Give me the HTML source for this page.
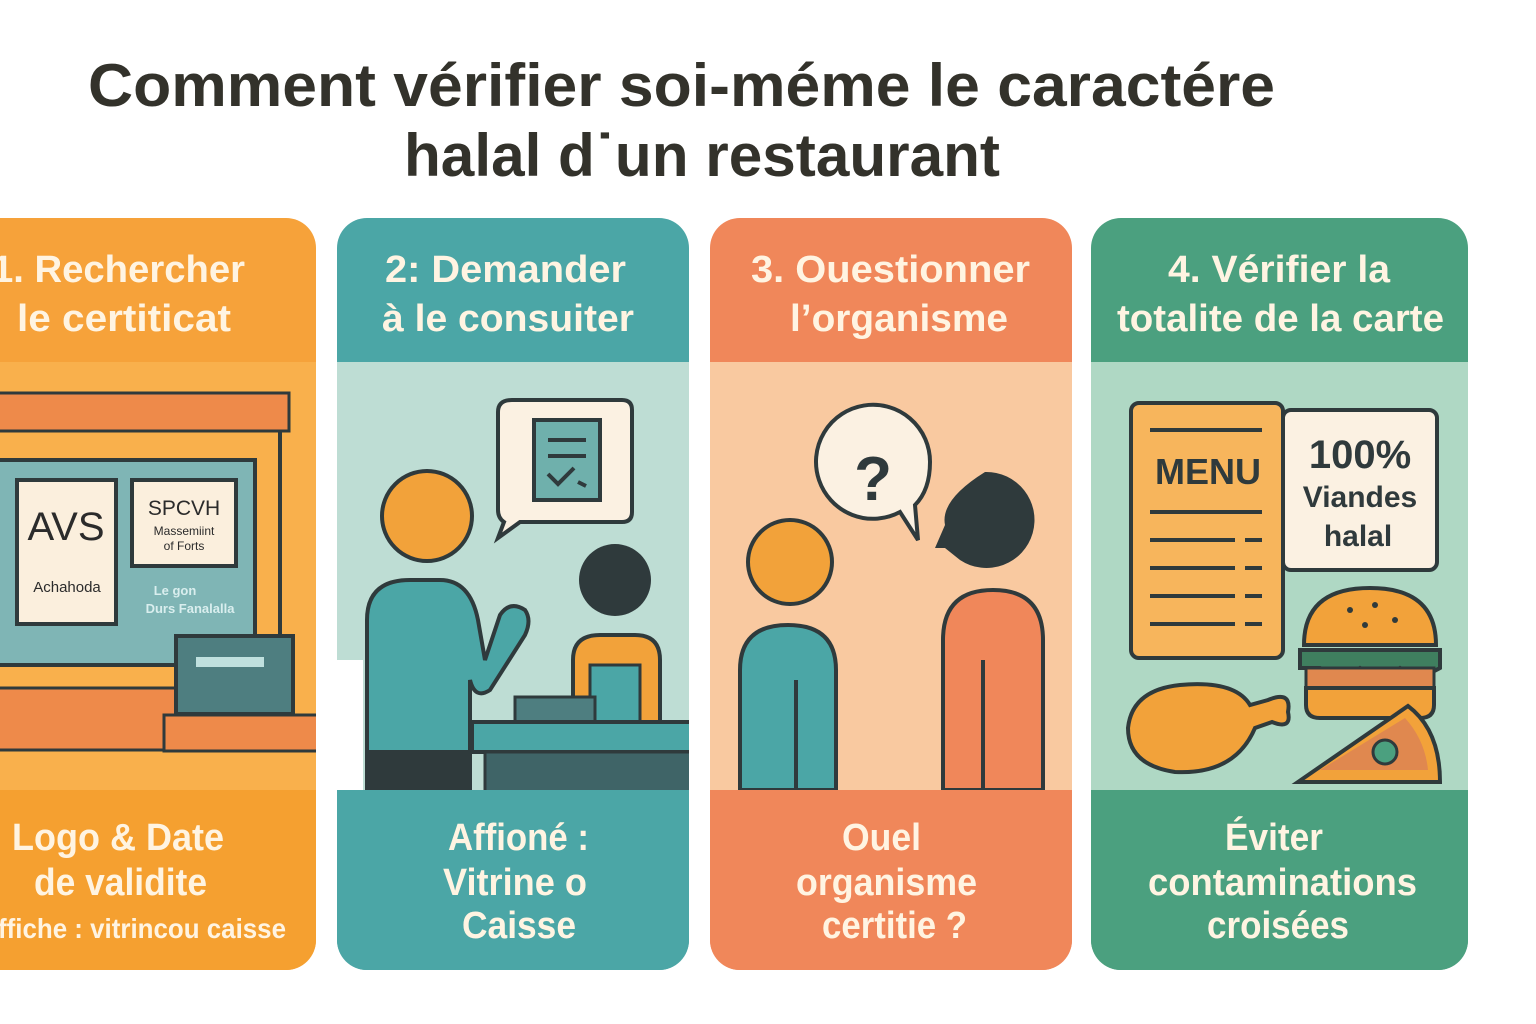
<!DOCTYPE html>
<html><head><meta charset="utf-8"><style>
body{margin:0;width:1536px;height:1024px;background:#fff;overflow:hidden;font-family:"Liberation Sans",sans-serif}
svg{position:absolute;left:0;top:0}
</style></head><body>
<svg width="1536" height="1024" viewBox="0 0 1536 1024" font-family="Liberation Sans, sans-serif">
<text x="88" y="106" textLength="1187" lengthAdjust="spacingAndGlyphs" font-size="60" font-weight="bold" fill="#33322b">Comment vérifier soi-méme le caractére</text>
<text x="404" y="176" textLength="596" lengthAdjust="spacingAndGlyphs" font-size="60" font-weight="bold" fill="#33322b">halal d˙un restaurant</text>
<defs>
<clipPath id="c1"><rect x="-40" y="218" width="356" height="752" rx="30"/></clipPath>
<clipPath id="c2"><rect x="337" y="218" width="352" height="752" rx="30"/></clipPath>
<clipPath id="c3"><rect x="710" y="218" width="362" height="752" rx="30"/></clipPath>
<clipPath id="c4"><rect x="1091" y="218" width="377" height="752" rx="30"/></clipPath>
</defs>
<!-- card 1 -->
<g clip-path="url(#c1)">
<rect x="-40" y="218" width="356" height="752" fill="#F6A23A"/>
<rect x="-40" y="362" width="356" height="428" fill="#F9B04C"/>
<rect x="-2" y="393" width="291" height="38" fill="#EE8A4A" stroke="#2f3a3c" stroke-width="3"/>
<line x1="280" y1="431" x2="280" y2="636" stroke="#2f3a3c" stroke-width="4"/>
<rect x="-2" y="460" width="257" height="205" fill="#7FB5B5" stroke="#2f3a3c" stroke-width="4"/>
<rect x="17" y="480" width="99" height="144" fill="#FBEFDD" stroke="#2f3a3c" stroke-width="4"/>
<text x="66" y="540" text-anchor="middle" font-size="40" fill="#2b2b2b">AVS</text>
<text x="67" y="592" text-anchor="middle" font-size="15" fill="#2b2b2b">Achahoda</text>
<rect x="132" y="480" width="104" height="86" fill="#FBEFDD" stroke="#2f3a3c" stroke-width="4"/>
<text x="184" y="515" text-anchor="middle" font-size="21" fill="#2b2b2b">SPCVH</text>
<text x="184" y="535" text-anchor="middle" font-size="12" fill="#2b2b2b">Massemiint</text>
<text x="184" y="550" text-anchor="middle" font-size="12" fill="#2b2b2b">of Forts</text>
<text x="175" y="595" text-anchor="middle" font-size="13" font-weight="bold" fill="#d9eeee">Le gon</text>
<text x="190" y="613" text-anchor="middle" font-size="13" font-weight="bold" fill="#d9eeee">Durs Fanalalla</text>
<rect x="-2" y="688" width="180" height="62" fill="#EE8A4A" stroke="#2f3a3c" stroke-width="3"/>
<rect x="176" y="636" width="117" height="78" fill="#4E7E80" stroke="#2f3a3c" stroke-width="4"/>
<rect x="196" y="657" width="68" height="10" fill="#BFE0DE"/>
<rect x="164" y="715" width="160" height="36" fill="#EE8A4A" stroke="#2f3a3c" stroke-width="3"/>
<rect x="-40" y="790" width="356" height="180" fill="#F5A030"/>
</g>
<g fill="#FFF4E2" font-size="38" font-weight="bold" lengthAdjust="spacingAndGlyphs">
<text x="-8" y="282" textLength="253" lengthAdjust="spacingAndGlyphs">1. Rechercher</text>
<text x="17" y="331" textLength="214" lengthAdjust="spacingAndGlyphs">le certiticat</text>
<text x="12" y="850" textLength="212" lengthAdjust="spacingAndGlyphs">Logo &amp; Date</text>
<text x="34" y="895" textLength="173" lengthAdjust="spacingAndGlyphs">de validite</text>
<text x="-2" y="938" font-size="28" textLength="288" lengthAdjust="spacingAndGlyphs">ffiche : vitrincou caisse</text>
</g>
<!-- card 2 -->
<g clip-path="url(#c2)">
<rect x="337" y="218" width="352" height="752" fill="#4BA6A6"/>
<rect x="337" y="362" width="352" height="428" fill="#BEDDD4"/>
<path d="M512 400 H622 Q632 400 632 410 V512 Q632 522 622 522 H520 L498 538 L504 522 Q498 518 498 510 V412 Q498 400 512 400Z" fill="#FBF1E2" stroke="#2f3a3c" stroke-width="4"/>
<rect x="534" y="420" width="66" height="80" fill="#6FB0AC" stroke="#2f3a3c" stroke-width="4"/>
<line x1="548" y1="440" x2="586" y2="440" stroke="#2f3a3c" stroke-width="4"/>
<line x1="548" y1="456" x2="586" y2="456" stroke="#2f3a3c" stroke-width="4"/>
<path d="M548 474 L558 484 L574 468 M578 482 L586 486" fill="none" stroke="#2f3a3c" stroke-width="4"/>
<circle cx="427" cy="516" r="45" fill="#F2A23A" stroke="#2f3a3c" stroke-width="4"/>
<path d="M367 790 V620 Q367 580 410 580 H440 Q470 580 478 620 L485 660 L500 615 Q510 600 525 610 Q532 620 525 635 L490 690 Q475 700 470 680 V790Z" fill="#4BA6A6" stroke="#2f3a3c" stroke-width="4"/>
<rect x="367" y="750" width="103" height="40" fill="#2f3a3c"/>
<circle cx="615" cy="580" r="36" fill="#2f3a3c"/>
<path d="M573 722 V660 Q573 635 600 635 H635 Q660 635 660 660 V722Z" fill="#F2A23A" stroke="#2f3a3c" stroke-width="4"/>
<rect x="590" y="665" width="50" height="57" fill="#4BA6A6" stroke="#2f3a3c" stroke-width="3"/>
<rect x="515" y="697" width="80" height="26" fill="#4E7E80" stroke="#2f3a3c" stroke-width="3"/>
<rect x="472" y="722" width="220" height="30" fill="#4BA6A6" stroke="#2f3a3c" stroke-width="4"/>
<rect x="485" y="752" width="210" height="40" fill="#3f6467" stroke="#2f3a3c" stroke-width="3"/>
<rect x="337" y="790" width="352" height="180" fill="#4BA6A6"/>
</g>
<rect x="333" y="660" width="30" height="130" fill="#fff"/>
<g fill="#FFF4E2" font-size="38" font-weight="bold">
<text x="385" y="282" textLength="241" lengthAdjust="spacingAndGlyphs">2: Demander</text>
<text x="382" y="331" textLength="252" lengthAdjust="spacingAndGlyphs">à le consuiter</text>
<text x="448" y="850" textLength="141" lengthAdjust="spacingAndGlyphs">Affioné :</text>
<text x="443" y="895" textLength="144" lengthAdjust="spacingAndGlyphs">Vitrine o</text>
<text x="462" y="938" textLength="114" lengthAdjust="spacingAndGlyphs">Caisse</text>
</g>
<!-- card 3 -->
<g clip-path="url(#c3)">
<rect x="710" y="218" width="362" height="752" fill="#F0875A"/>
<rect x="710" y="362" width="362" height="428" fill="#F9C9A0"/>
<path d="M930 462 A57 57 0 1 0 900 512 L918 540 L915 505 Q930 490 930 462Z" fill="#FBF1E2" stroke="#2f3a3c" stroke-width="4"/>
<text x="873" y="500" text-anchor="middle" font-size="62" font-weight="bold" fill="#2f3a3c">?</text>
<circle cx="790" cy="562" r="42" fill="#F2A23A" stroke="#2f3a3c" stroke-width="4"/>
<path d="M740 790 V670 Q740 625 788 625 Q836 625 836 670 V790Z" fill="#4BA6A6" stroke="#2f3a3c" stroke-width="4"/>
<line x1="796" y1="680" x2="796" y2="790" stroke="#2f3a3c" stroke-width="4"/>
<path d="M985 472 A48 48 0 1 1 960 560 L945 548 L935 548 L945 525 Q940 500 985 472Z" fill="#2f3a3c"/>
<path d="M943 790 V640 Q943 590 993 590 Q1043 590 1043 640 V790Z" fill="#F0875A" stroke="#2f3a3c" stroke-width="4"/>
<line x1="983" y1="660" x2="983" y2="790" stroke="#2f3a3c" stroke-width="4"/>
<rect x="710" y="790" width="362" height="180" fill="#F0875A"/>
</g>
<g fill="#FFF4E2" font-size="38" font-weight="bold">
<text x="751" y="282" textLength="279" lengthAdjust="spacingAndGlyphs">3. Ouestionner</text>
<text x="790" y="331" textLength="218" lengthAdjust="spacingAndGlyphs">l’organisme</text>
<text x="842" y="850" textLength="79" lengthAdjust="spacingAndGlyphs">Ouel</text>
<text x="796" y="895" textLength="181" lengthAdjust="spacingAndGlyphs">organisme</text>
<text x="822" y="938" textLength="145" lengthAdjust="spacingAndGlyphs">certitie ?</text>
</g>
<!-- card 4 -->
<g clip-path="url(#c4)">
<rect x="1091" y="218" width="377" height="752" fill="#4BA07F"/>
<rect x="1091" y="362" width="377" height="428" fill="#AFD8C4"/>
<rect x="1131" y="403" width="152" height="255" rx="8" fill="#F7B55C" stroke="#2f3a3c" stroke-width="4"/>
<line x1="1150" y1="430" x2="1262" y2="430" stroke="#2f3a3c" stroke-width="4"/>
<text x="1208" y="484" text-anchor="middle" font-size="36" font-weight="bold" fill="#2f3a3c">MENU</text>
<g stroke="#2f3a3c" stroke-width="4">
<line x1="1150" y1="512" x2="1262" y2="512"/>
<line x1="1150" y1="540" x2="1235" y2="540"/><line x1="1245" y1="540" x2="1262" y2="540"/>
<line x1="1150" y1="568" x2="1235" y2="568"/><line x1="1245" y1="568" x2="1262" y2="568"/>
<line x1="1150" y1="596" x2="1235" y2="596"/><line x1="1245" y1="596" x2="1262" y2="596"/>
<line x1="1150" y1="624" x2="1235" y2="624"/><line x1="1245" y1="624" x2="1262" y2="624"/>
</g>
<rect x="1283" y="410" width="154" height="160" rx="8" fill="#FBF1E2" stroke="#2f3a3c" stroke-width="4"/>
<text x="1360" y="468" text-anchor="middle" font-size="40" font-weight="bold" fill="#2f3a3c">100%</text>
<text x="1360" y="507" text-anchor="middle" font-size="30" font-weight="bold" fill="#2f3a3c">Viandes</text>
<text x="1358" y="546" text-anchor="middle" font-size="30" font-weight="bold" fill="#2f3a3c">halal</text>
<path d="M1304 645 Q1304 588 1370 588 Q1436 588 1436 645Z" fill="#F2A23A" stroke="#2f3a3c" stroke-width="4"/>
<path d="M1300 650 H1440 V668 Q1420 680 1400 668 Q1380 680 1360 668 Q1340 680 1320 668 L1300 668Z" fill="#3f7f5f" stroke="#2f3a3c" stroke-width="4"/>
<rect x="1306" y="668" width="128" height="20" fill="#E0884F" stroke="#2f3a3c" stroke-width="3"/>
<path d="M1306 688 H1434 V705 Q1434 718 1420 718 H1320 Q1306 718 1306 705Z" fill="#F2A23A" stroke="#2f3a3c" stroke-width="4"/>
<g fill="#2f3a3c"><circle cx="1350" cy="610" r="3"/><circle cx="1375" cy="605" r="3"/><circle cx="1395" cy="620" r="3"/><circle cx="1365" cy="625" r="3"/></g>
<path d="M1180 685 Q1235 680 1250 705 L1268 700 Q1292 690 1288 712 Q1292 730 1272 722 L1255 728 Q1235 775 1175 772 Q1128 765 1128 728 Q1132 690 1180 685Z" fill="#F2A23A" stroke="#2f3a3c" stroke-width="4"/>
<path d="M1298 782 L1408 706 Q1440 730 1440 782Z" fill="#F2A23A" stroke="#2f3a3c" stroke-width="4"/>
<path d="M1320 770 L1405 718 Q1425 740 1428 770Z" fill="#E0884F"/>
<circle cx="1385" cy="752" r="12" fill="#4BA07F" stroke="#2f3a3c" stroke-width="3"/>
<rect x="1091" y="790" width="377" height="180" fill="#4BA07F"/>
</g>
<g fill="#FFF4E2" font-size="38" font-weight="bold">
<text x="1168" y="282" textLength="222" lengthAdjust="spacingAndGlyphs">4. Vérifier la</text>
<text x="1117" y="331" textLength="327" lengthAdjust="spacingAndGlyphs">totalite de la carte</text>
<text x="1225" y="850" textLength="98" lengthAdjust="spacingAndGlyphs">Éviter</text>
<text x="1148" y="895" textLength="269" lengthAdjust="spacingAndGlyphs">contaminations</text>
<text x="1207" y="938" textLength="142" lengthAdjust="spacingAndGlyphs">croisées</text>
</g>
</svg>
</body></html>
